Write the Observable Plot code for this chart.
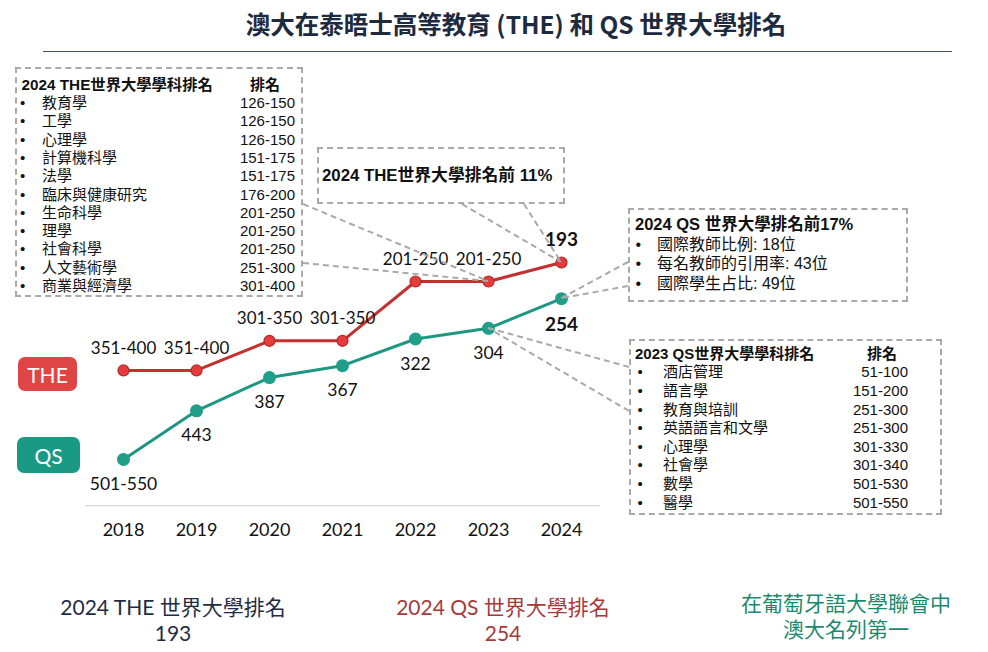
<!DOCTYPE html>
<html><head><meta charset="utf-8">
<script src="https://cdn.jsdelivr.net/npm/d3@7"></script>
<script src="https://cdn.jsdelivr.net/npm/@observablehq/plot@0.6"></script>
<style>
body{margin:0;background:#fff;}
#wrap{position:relative;width:988px;height:652px;overflow:hidden;font-family:"Liberation Sans",Arial,"Noto Sans CJK TC",sans-serif;color:#111;}
.abs{position:absolute;}
#title{left:0;width:1032px;top:8px;text-align:center;font-family:"Noto Sans CJK TC",sans-serif;font-weight:700;font-size:24.5px;line-height:32px;color:#1e2b3f;}
#rule{left:43px;width:909px;top:51px;height:0;border-top:1.6px solid #3a5566;}
#chart{left:0;top:60px;}
#overlay{left:0;top:0;pointer-events:none;}
.box{position:absolute;box-sizing:border-box;border:2px dashed #a9a9a9;background:transparent;}
.row{position:relative;}
.row span{position:absolute;top:0;white-space:nowrap;}
.b{font-weight:700;}
.badge{position:absolute;box-sizing:border-box;border-radius:7px;color:#fff;font-family:Lato,sans-serif;font-size:21px;display:flex;align-items:center;justify-content:center;}
.foot{position:absolute;text-align:center;font-family:Lato,"Noto Sans CJK TC",sans-serif;font-size:21px;line-height:26px;white-space:nowrap;}
</style></head><body><div id="wrap"></div>
<script>
// ---- data ----
const years = [2018, 2019, 2020, 2021, 2022, 2023, 2024];
const theRank = [375, 375, 325, 325, 225, 225, 193];
const theLabels = ["351-400", "351-400", "301-350", "301-350", "201-250", "201-250", "193"];
const qsRank = [525, 443, 387, 367, 322, 304, 254];
const qsLabels = ["501-550", "443", "387", "367", "322", "304", "254"];

const theSubjects = ["教育學", "工學", "心理學", "計算機科學", "法學", "臨床與健康研究", "生命科學", "理學", "社會科學", "人文藝術學", "商業與經濟學"];
const theSubjectRanks = ["126-150", "126-150", "126-150", "151-175", "151-175", "176-200", "201-250", "201-250", "201-250", "251-300", "301-400"];
const qsSubjects = ["酒店管理", "語言學", "教育與培訓", "英語語言和文學", "心理學", "社會學", "數學", "醫學"];
const qsSubjectRanks = ["51-100", "151-200", "251-300", "251-300", "301-330", "301-340", "501-530", "501-550"];
const qsIndicators = ["國際教師比例: 18位", "每名教師的引用率: 43位", "國際學生占比: 49位"];

const titleText = "澳大在泰晤士高等教育 (THE) 和 QS 世界大學排名";
const theBoxTitle = "2024 THE世界大學學科排名";
const qsBoxTitle = "2023 QS世界大學學科排名";
const theTopText = "2024 THE世界大學排名前 11%";
const qsTopText = "2024 QS 世界大學排名前17%";
const rankHeader = "排名";
const footTHE = ["2024 THE 世界大學排名", "193"];
const footQS = ["2024 QS 世界大學排名", "254"];
const footUM = ["在葡萄牙語大學聯會中", "澳大名列第一"];

const theData = years.map((year, i) => ({year, rank: theRank[i], label: theLabels[i]}));
const qsData = years.map((year, i) => ({year, rank: qsRank[i], label: qsLabels[i]}));
const last = years[years.length - 1];

// ---- layout helpers ----
const wrap = document.getElementById("wrap");
function el(tag, cls, style, text) {
  const e = document.createElement(tag);
  if (cls) e.className = cls;
  if (style) Object.assign(e.style, style);
  if (text != null) e.textContent = text;
  return e;
}
wrap.appendChild(el("div", "abs", {}, titleText)).id = "title";
wrap.appendChild(el("div", "abs")).id = "rule";

// ---- chart ----
const RED = "#c3302e", TEAL = "#1e9782";
const plot = Plot.plot({
  width: 988, height: 500,
  marginLeft: 85, marginRight: 389, marginTop: 176.5, marginBottom: 54.8,
  x: {type: "point", domain: years, label: null},
  y: {domain: [150, 603], reverse: true, axis: null},
  style: {fontFamily: "Lato, sans-serif", fontSize: "18px", color: "#111", background: "transparent", overflow: "visible"},
  marks: [
    Plot.frame({anchor: "bottom", stroke: "#d9d9d9", strokeWidth: 1.2}),
    Plot.axisX({tickSize: 0, tickPadding: 18, fontSize: 18, label: null, tickFormat: d => String(d)}),
    Plot.line(theData, {x: "year", y: "rank", stroke: RED, strokeWidth: 3}),
    Plot.line(qsData, {x: "year", y: "rank", stroke: TEAL, strokeWidth: 3}),
    Plot.dot(theData, {x: "year", y: "rank", r: 5.5, fill: "#e43c3c", stroke: "#b82626", strokeWidth: 1.2}),
    Plot.dot(qsData, {x: "year", y: "rank", r: 6.5, fill: "#1f9e89"}),
    Plot.text(theData, {filter: d => d.year !== last, x: "year", y: "rank", text: "label", dy: -22, fontSize: 17, fill: "#111"}),
    Plot.text(theData, {filter: d => d.year === last, x: "year", y: "rank", text: "label", dy: -23, fontSize: 19, fontWeight: 700, fill: "#111"}),
    Plot.text(qsData, {filter: d => d.year !== last, x: "year", y: "rank", text: "label", dy: 25, fontSize: 17.5, fill: "#111"}),
    Plot.text(qsData, {filter: d => d.year === last, x: "year", y: "rank", text: "label", dy: 26, fontSize: 19, fontWeight: 700, fill: "#111"})
  ]
});
plot.classList.add("abs");
plot.id = "chart";
wrap.appendChild(plot);

// ---- series badges ----
wrap.appendChild(el("div", "badge", {left: "18px", top: "357px", width: "59px", height: "34px", background: "#e04545"}, "THE"));
wrap.appendChild(el("div", "badge", {left: "17px", top: "437px", width: "63px", height: "36px", background: "#1a9a85"}, "QS"));

// ---- annotation boxes ----
function box(x, y, w, h) {
  const b = el("div", "box", {left: x + "px", top: y + "px", width: w + "px", height: h + "px"});
  wrap.appendChild(b);
  return b;
}
function tableBox(b, opt, title, names, ranks) {
  b.style.paddingTop = opt.padTop + "px";
  b.style.fontSize = opt.fs + "px";
  const lh = opt.lh + "px";
  const head = el("div", "row", {height: lh, lineHeight: lh});
  head.appendChild(el("span", "b", {left: opt.titleLeft + "px", fontSize: (opt.tfs || opt.fs) + "px"}, title));
  if (opt.headLeft != null) head.appendChild(el("span", "b", {left: opt.headLeft + "px"}, rankHeader));
  b.appendChild(head);
  names.forEach((n, i) => {
    const r = el("div", "row", {height: lh, lineHeight: lh});
    r.appendChild(el("span", null, {left: opt.bulLeft + "px"}, "•"));
    r.appendChild(el("span", null, {left: opt.nameLeft + "px"}, n));
    if (ranks) r.appendChild(el("span", null, {right: opt.rankRight + "px"}, ranks[i]));
    b.appendChild(r);
  });
}
const leftBox = {x: 15, y: 67, w: 288, h: 230};
tableBox(box(leftBox.x, leftBox.y, leftBox.w, leftBox.h),
  {padTop: 6.8, fs: 15, tfs: 15.3, lh: 18.3, titleLeft: 4.5, headLeft: 233, bulLeft: 3, nameLeft: 25, rankRight: 6},
  theBoxTitle, theSubjects, theSubjectRanks);

const midBox = {x: 317, y: 147, w: 248, h: 57};
const mb = box(midBox.x, midBox.y, midBox.w, midBox.h);
mb.appendChild(el("div", "b", {position: "absolute", left: "3px", top: "17px", fontSize: "16.8px", lineHeight: "20px", whiteSpace: "nowrap"}, theTopText));

const trBox = {x: 628, y: 208, w: 280, h: 94};
tableBox(box(trBox.x, trBox.y, trBox.w, trBox.h),
  {padTop: 5.2, fs: 16, tfs: 16.5, lh: 19.5, titleLeft: 5, headLeft: null, bulLeft: 5.5, nameLeft: 27, rankRight: 0},
  qsTopText, qsIndicators, null);

const brBox = {x: 629, y: 339, w: 313, h: 176};
tableBox(box(brBox.x, brBox.y, brBox.w, brBox.h),
  {padTop: 3.8, fs: 15, lh: 18.6, titleLeft: 4, headLeft: 236, bulLeft: 6.5, nameLeft: 32, rankRight: 32},
  qsBoxTitle, qsSubjects, qsSubjectRanks);

// ---- footer ----
function foot(cx, top, lines, color) {
  const f = el("div", "foot", {left: (cx - 200) + "px", width: "400px", top: top + "px", color});
  lines.forEach(t => f.appendChild(el("div", null, {}, t)));
  wrap.appendChild(f);
}
foot(173, 594, footTHE, "#1f2d44");
foot(503, 594, footQS, "#a63a3a");
foot(846, 590, footUM, "#1a8a6f");

// ---- leader lines (from boxes to data points via plot scales) ----
const sx = plot.scale("x"), sy = plot.scale("y");
const chartTop = 60;
const P = (data, year) => {
  const d = data.find(d => d.year === year);
  return [sx.apply(d.year), sy.apply(d.rank) + chartTop];
};
const leaders = [
  [[leftBox.x + leftBox.w, 204], P(theData, 2023)],
  [[leftBox.x + leftBox.w, 263], P(theData, 2023)],
  [[462, midBox.y + midBox.h], P(theData, 2024)],
  [[524, midBox.y + midBox.h], P(theData, 2024)],
  [[trBox.x, 262], P(qsData, 2024)],
  [[trBox.x, 286], P(qsData, 2024)],
  [[brBox.x, 367], P(qsData, 2023)],
  [[brBox.x, 411], P(qsData, 2023)]
];
const ns = "http://www.w3.org/2000/svg";
const ov = document.createElementNS(ns, "svg");
ov.setAttribute("width", 988); ov.setAttribute("height", 652);
ov.setAttribute("class", "abs"); ov.id = "overlay";
leaders.forEach(([a, b]) => {
  const l = document.createElementNS(ns, "line");
  l.setAttribute("x1", a[0]); l.setAttribute("y1", a[1]);
  l.setAttribute("x2", b[0]); l.setAttribute("y2", b[1]);
  l.setAttribute("stroke", "#a9a9a9"); l.setAttribute("stroke-width", 2);
  l.setAttribute("stroke-dasharray", "6 4");
  ov.appendChild(l);
});
wrap.appendChild(ov);
</script></body></html>
